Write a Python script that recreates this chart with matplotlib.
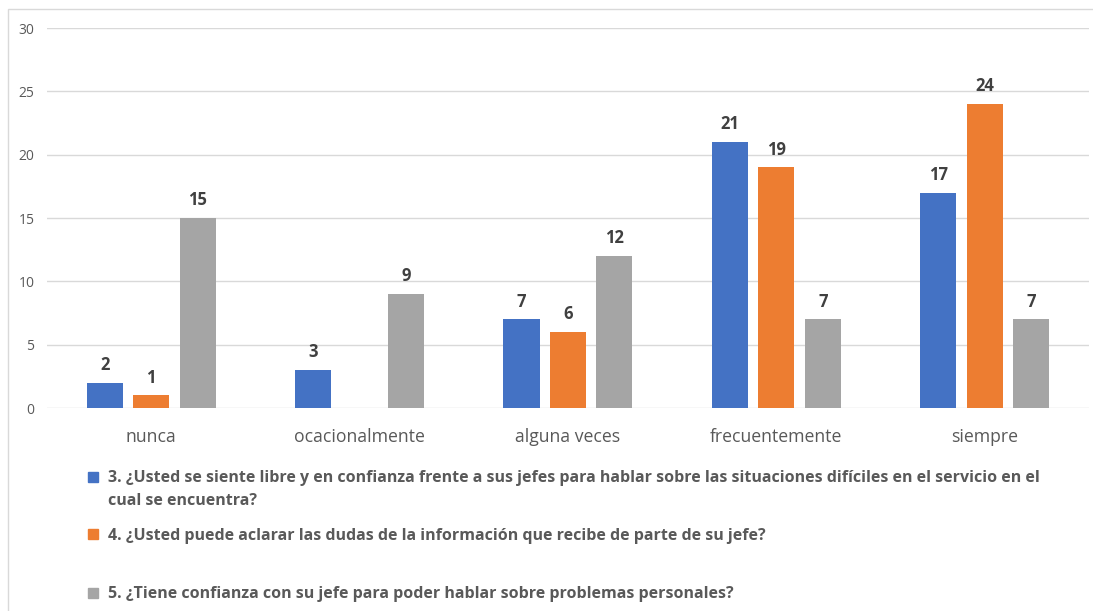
import matplotlib.pyplot as plt
import numpy as np
from matplotlib.patches import Rectangle

categorias = ['nunca', 'ocacionalmente', 'alguna veces', 'frecuentemente', 'siempre']
p3 = [2, 3, 7, 21, 17]
p4 = [1, 0, 6, 19, 24]
p5 = [15, 9, 12, 7, 7]
series = [p3, p4, p5]
etiquetas = ['3. ¿Usted se siente libre y en confianza frente a sus jefes para hablar sobre las situaciones difíciles en el servicio en el\ncual se encuentra?',
             '4. ¿Usted puede aclarar las dudas de la información que recibe de parte de su jefe?',
             '5. ¿Tiene confianza con su jefe para poder hablar sobre problemas personales?']
colores = ['#4472C4', '#ED7D31', '#A5A5A5']

plt.rcParams['font.family'] = ['Open Sans', 'DejaVu Sans']

fig = plt.figure(figsize=(10.93, 6.11), dpi=100)
ax = fig.add_axes([0.043, 0.332, 0.9533, 0.622])

x = np.arange(len(categorias))
w = 0.173
offs = [-0.223, 0, 0.223]
for s, c, o in zip(series, colores, offs):
    for xi, v in zip(x, s):
        if v == 0:
            continue
        ax.bar(xi + o, v, width=w, color=c, zorder=3)
        ax.text(xi + o, v + 0.7, str(v), ha='center', va='bottom', fontsize=12,
                fontweight='bold', color='#404040')

ax.set_xlim(-0.5, 4.5)
ax.set_ylim(0, 30)
ax.set_yticks(range(0, 31, 5))
ax.set_xticks(x)
ax.set_xticklabels(categorias, fontsize=12.7, color='#595959')
ax.tick_params(axis='y', labelsize=10, colors='#595959', length=0, pad=9)
ax.tick_params(axis='x', length=0, pad=14)
ax.grid(axis='y', color='#D9D9D9', linewidth=1, zorder=0)
for sp in ax.spines.values():
    sp.set_visible(False)

# leyenda a mano
W, H = 1093, 611
ys = [476.5, 534, 593]
for yy, c, t in zip(ys, colores, etiquetas):
    fig.add_artist(Rectangle((88 / W, 1 - (yy + 5) / H), 10 / W, 10 / H,
                             transform=fig.transFigure, color=c))
    for k, linea in enumerate(t.split('\n')):
        fig.text(108 / W, 1 - (yy + 5.5 + 23 * k) / H, linea, fontsize=11.5,
                 fontweight='bold', color='#595959', va='baseline')

fig.add_artist(Rectangle((8 / W, -0.1), 1.2, 1 - 9 / H + 0.1, transform=fig.transFigure,
                         fill=False, edgecolor='#D9D9D9', linewidth=1))

fig.savefig('out.png', dpi=100)
